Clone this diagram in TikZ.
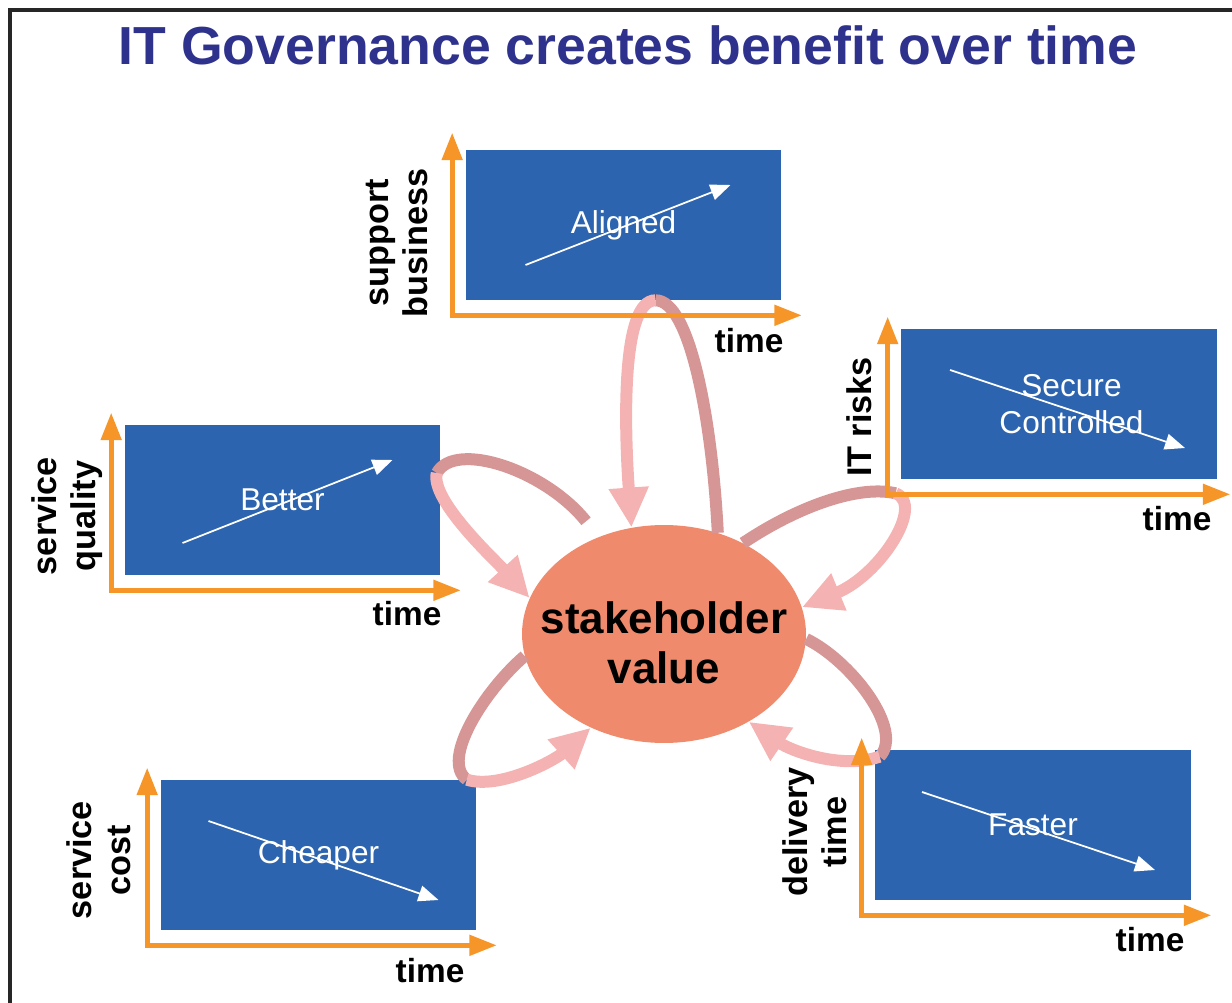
\documentclass[tikz,border=0pt]{standalone}
\usepackage{fontspec}
\setmainfont{Liberation Sans}
\usetikzlibrary{arrows.meta,calc,positioning,shapes.geometric}
\definecolor{titleblue}{RGB}{46,50,140}
\definecolor{chartblue}{RGB}{45,100,175}
\definecolor{axisorange}{RGB}{247,150,40}
\definecolor{salmon}{RGB}{240,138,108}
\definecolor{loopdark}{RGB}{214,150,150}
\definecolor{looplight}{RGB}{245,178,178}
\tikzstyle{chart} = [rectangle, minimum width=6.32cm, minimum height=3cm, inner sep=0pt, fill=chartblue, text=white, align=center, font=\fontsize{18}{21}\selectfont]
\tikzstyle{chartaxis} = [draw=axisorange, line width=1mm, {Triangle[length=5.5mm,width=4mm]}-{Triangle[length=5.5mm,width=4mm]}]
\tikzstyle{trend} = [draw=white, line width=0.35mm, -{Triangle[length=4mm,width=3.2mm]}]
\tikzstyle{measure} = [rotate=90, align=center, font=\bfseries\fontsize{19.5}{22}\selectfont]
\tikzstyle{timelabel} = [font=\bfseries\fontsize{19}{22}\selectfont]
\tikzstyle{stake} = [ellipse, minimum width=5.68cm, minimum height=4.36cm, inner sep=0pt, fill=salmon]
\tikzstyle{staketext} = [align=center, font=\bfseries\fontsize{25}{28.5}\selectfont]
\tikzstyle{loopout} = [draw=loopdark, line width=2.4mm]
\tikzstyle{loopin} = [draw=looplight, line width=2.4mm, -{Triangle[length=8mm,width=7.5mm]}]

\begin{document}
\begin{tikzpicture}[x=0.02cm, y=-0.02cm]
\useasboundingbox (0,0) rectangle (1232,1003);
\draw [black!85, line width=0.8mm] (10,1003) -- (10,10) -- (1232,10);
\node (title) [anchor=base, text=titleblue, font=\bfseries\fontsize{30.5}{34}\selectfont] at (628,65) {IT Governance creates benefit over time};

% the five charts
\node (aligned) [chart] at (623.5,225) {Aligned};
\node (better) [chart] at (282.5,500) {Better};
\node (secure) [chart] at (1059,404) {\hspace*{0.5cm}Secure\\\hspace*{0.5cm}Controlled};
\node (cheaper) [chart] at (318.5,855) {Cheaper};
\node (faster) [chart] at (1033,825) {Faster};

\draw [trend] ($(aligned)+(-98,40)$) -- ($(aligned)+(107,-40)$);
\draw [trend] ($(better)+(-100,43)$) -- ($(better)+(110,-40)$);
\draw [trend] ($(secure)+(-109,-34)$) -- ($(secure)+(126,44)$);
\draw [trend] ($(cheaper)+(-110,-34)$) -- ($(cheaper)+(120,45)$);
\draw [trend] ($(faster)+(-111,-33)$) -- ($(faster)+(122,45)$);

\node (alignedy) [measure] at (397,243) {support\\business};
\node (bettery) [measure] at (67,516) {service\\quality};
\node (securey) [measure] at (859,417) {IT risks};
\node (cheapery) [measure] at (99,860) {service\\cost};
\node (fastery) [measure] at (815,832) {delivery\\time};

\node (alignedx) [timelabel] at (749,341) {time};
\node (betterx) [timelabel] at (407,614) {time};
\node (securex) [timelabel] at (1177,519) {time};
\node (cheaperx) [timelabel] at (430,971) {time};
\node (fasterx) [timelabel] at (1150,940) {time};

% stakeholder value and the loops round it
\node (sv) [stake] at (664,634) {};
\node (svtext) [staketext] at (664,643) {stakeholder\\value};

\coordinate (alignedturn) at ([xshift=0.64cm]aligned.south);
\coordinate (betterturn) at ([xshift=-0.08cm, yshift=0.54cm]better.east);
\coordinate (secureturn) at ([xshift=-0.1cm, yshift=-0.28cm]secure.south west);
\coordinate (cheaperturn) at ([xshift=-0.2cm]cheaper.north east);
\coordinate (fasterturn) at ([xshift=0.1cm, yshift=-0.14cm]faster.north west);

\draw [loopout] (sv.62) .. controls (712,420) and (690,300) .. (alignedturn);
\draw [loopin] (alignedturn) .. controls (622,300) and (624,420) .. (sv.107);
\draw [loopout, shorten <=0.4cm] (sv.124) .. controls (545,470) and (455,440) .. (betterturn);
\draw [loopin] (betterturn) .. controls (430,500) and (495,560) .. (sv.165);
\draw [loopout] (sv.49) .. controls (800,505) and (860,485) .. (secureturn);
\draw [loopin] (secureturn) .. controls (925,505) and (880,575) .. (sv.11);
\draw [loopout] (sv.189) .. controls (485,690) and (440,760) .. (cheaperturn);
\draw [loopin] (cheaperturn) .. controls (500,790) and (555,760) .. (sv.232);
\draw [loopout] (sv.-2) .. controls (850,660) and (905,730) .. (fasterturn);
\draw [loopin] (fasterturn) .. controls (840,770) and (790,750) .. (sv.-46);

% axes
\draw [chartaxis] ($(aligned.north west)+(-13,-17)$) -- ($(aligned.south west)+(-13,15)$) -- ($(aligned.south east)+(20,15)$);
\draw [chartaxis] ($(better.north west)+(-13,-12)$) -- ($(better.south west)+(-13,15)$) -- ($(better.south east)+(20,15)$);
\draw [chartaxis] ($(secure.north west)+(-13,-12)$) -- ($(secure.south west)+(-13,15)$) -- ($(secure.south east)+(13,15)$);
\draw [chartaxis] ($(cheaper.north west)+(-13,-12)$) -- ($(cheaper.south west)+(-13,15)$) -- ($(cheaper.south east)+(20,15)$);
\draw [chartaxis] ($(faster.north west)+(-13,-12)$) -- ($(faster.south west)+(-13,15)$) -- ($(faster.south east)+(20,15)$);
\end{tikzpicture}
\end{document}
